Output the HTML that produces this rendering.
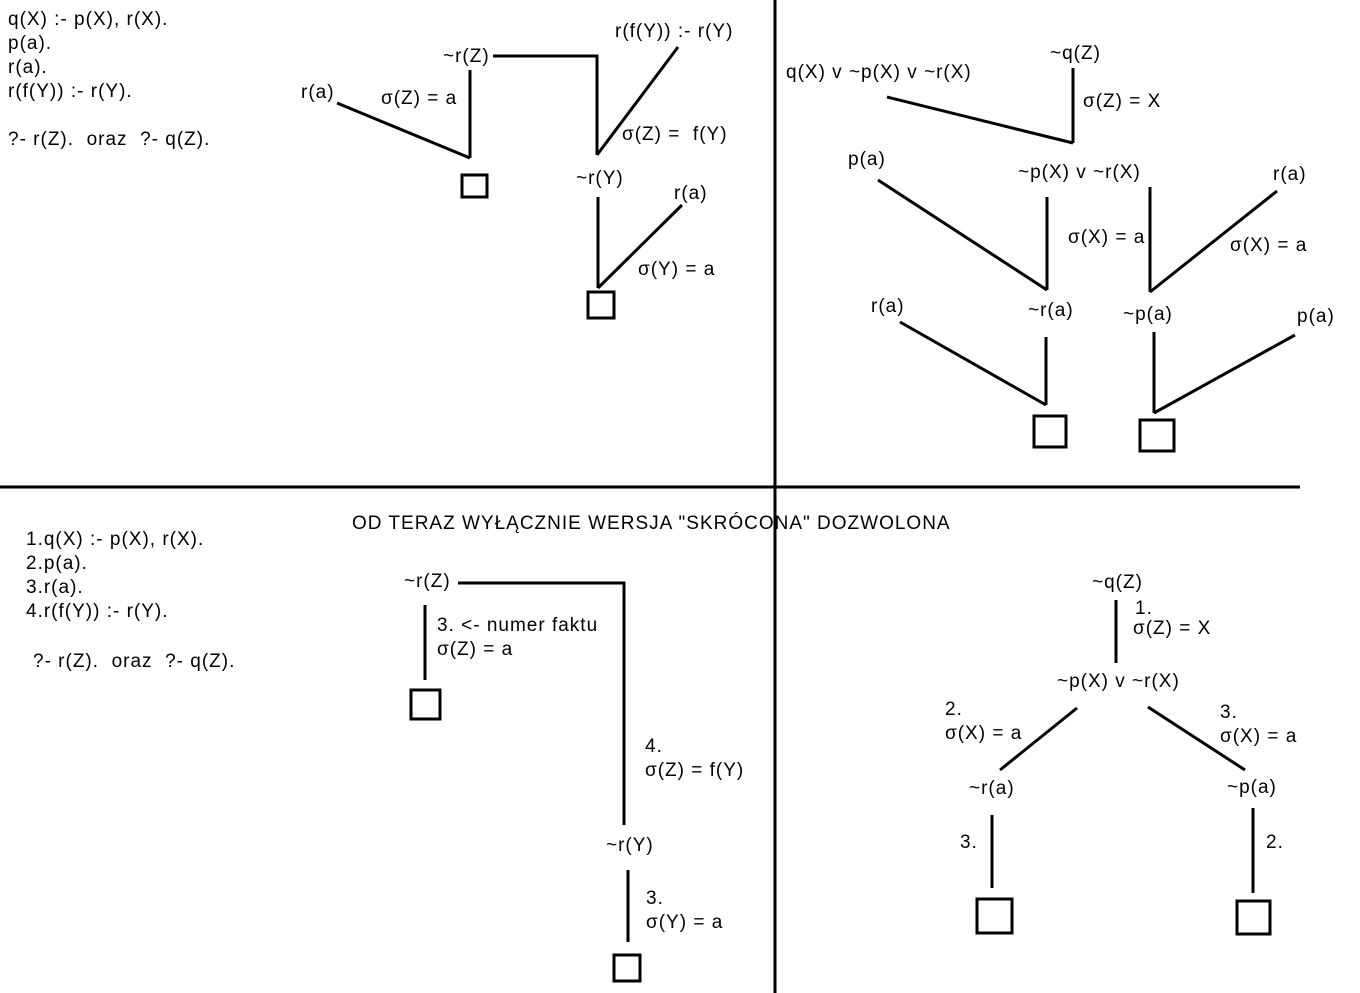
<!DOCTYPE html>
<html><head><meta charset="utf-8"><style>
html,body{margin:0;padding:0;background:#fff;}
svg{display:block}
text{font-family:"Liberation Sans",Arial,sans-serif;font-size:19px;fill:#000;letter-spacing:1px}
</style></head><body>
<svg width="1360" height="993" viewBox="0 0 1360 993" xmlns="http://www.w3.org/2000/svg">
<g stroke="#000" stroke-width="3" fill="none">
<line x1="775" y1="0" x2="775" y2="993"/>
<line x1="0" y1="487" x2="1300" y2="487"/>
<polyline points="493,56 597,56 597,155"/>
<line x1="678" y1="47" x2="597" y2="155"/>
<line x1="337" y1="103" x2="470" y2="158"/>
<line x1="470" y1="70" x2="470" y2="158"/>
<rect x="462" y="175" width="25" height="22"/>
<line x1="598" y1="197" x2="598" y2="288"/>
<line x1="682" y1="205" x2="598" y2="288"/>
<rect x="588" y="292" width="26" height="26"/>
<line x1="887" y1="97" x2="1073" y2="143"/>
<line x1="1073" y1="68" x2="1073" y2="143"/>
<line x1="878" y1="180" x2="1047" y2="290"/>
<line x1="1047" y1="197" x2="1047" y2="290"/>
<line x1="1150" y1="187" x2="1150" y2="292"/>
<line x1="1277" y1="191" x2="1150" y2="292"/>
<line x1="900" y1="322" x2="1046" y2="405"/>
<line x1="1046" y1="337" x2="1046" y2="405"/>
<rect x="1034" y="416" width="32" height="31"/>
<line x1="1154" y1="332" x2="1154" y2="413"/>
<line x1="1295" y1="335" x2="1154" y2="413"/>
<rect x="1140" y="420" width="34" height="31"/>
<polyline points="458,583 624,583 624,825"/>
<line x1="425" y1="605" x2="425" y2="680"/>
<rect x="411" y="690" width="29" height="29"/>
<line x1="628" y1="870" x2="628" y2="942"/>
<rect x="614" y="955" width="26" height="26"/>
<line x1="1116" y1="600" x2="1116" y2="663"/>
<line x1="1077" y1="708" x2="1000" y2="770"/>
<line x1="1148" y1="707" x2="1245" y2="770"/>
<line x1="992" y1="815" x2="992" y2="888"/>
<rect x="977" y="899" width="35" height="34"/>
<line x1="1253" y1="808" x2="1253" y2="893"/>
<rect x="1237" y="901" width="33" height="33"/>
</g>
<text x="8" y="25">q(X) :- p(X), r(X).</text>
<text x="8" y="49">p(a).</text>
<text x="8" y="73">r(a).</text>
<text x="8" y="97">r(f(Y)) :- r(Y).</text>
<text x="8" y="145" xml:space="preserve">?- r(Z).  oraz  ?- q(Z).</text>
<text x="443" y="62">~r(Z)</text>
<text x="615" y="37">r(f(Y)) :- r(Y)</text>
<text x="622" y="140" xml:space="preserve">σ(Z) =  f(Y)</text>
<text x="576" y="184">~r(Y)</text>
<text x="301" y="98">r(a)</text>
<text x="381" y="104">σ(Z) = a</text>
<text x="674" y="199">r(a)</text>
<text x="638" y="275">σ(Y) = a</text>
<text x="786" y="78">q(X) v ~p(X) v ~r(X)</text>
<text x="1050" y="59">~q(Z)</text>
<text x="1083" y="107">σ(Z) = X</text>
<text x="848" y="165">p(a)</text>
<text x="1018" y="178">~p(X) v ~r(X)</text>
<text x="1273" y="180">r(a)</text>
<text x="1068" y="243">σ(X) = a</text>
<text x="1230" y="251">σ(X) = a</text>
<text x="871" y="312">r(a)</text>
<text x="1028" y="316">~r(a)</text>
<text x="1123" y="320">~p(a)</text>
<text x="1297" y="322">p(a)</text>
<text x="352" y="529">OD TERAZ WYŁĄCZNIE WERSJA "SKRÓCONA" DOZWOLONA</text>
<text x="26" y="545">1.q(X) :- p(X), r(X).</text>
<text x="26" y="569">2.p(a).</text>
<text x="26" y="593">3.r(a).</text>
<text x="26" y="617">4.r(f(Y)) :- r(Y).</text>
<text x="33" y="667" xml:space="preserve">?- r(Z).  oraz  ?- q(Z).</text>
<text x="404" y="587">~r(Z)</text>
<text x="437" y="631">3. &lt;- numer faktu</text>
<text x="437" y="655">σ(Z) = a</text>
<text x="645" y="752">4.</text>
<text x="645" y="776">σ(Z) = f(Y)</text>
<text x="606" y="851">~r(Y)</text>
<text x="646" y="904">3.</text>
<text x="646" y="928">σ(Y) = a</text>
<text x="1092" y="588">~q(Z)</text>
<text x="1135" y="614">1.</text>
<text x="1133" y="634">σ(Z) = X</text>
<text x="1057" y="687">~p(X) v ~r(X)</text>
<text x="945" y="715">2.</text>
<text x="945" y="739">σ(X) = a</text>
<text x="1220" y="718">3.</text>
<text x="1220" y="742">σ(X) = a</text>
<text x="969" y="794">~r(a)</text>
<text x="1227" y="793">~p(a)</text>
<text x="960" y="848">3.</text>
<text x="1266" y="848">2.</text>
</svg>
</body></html>
